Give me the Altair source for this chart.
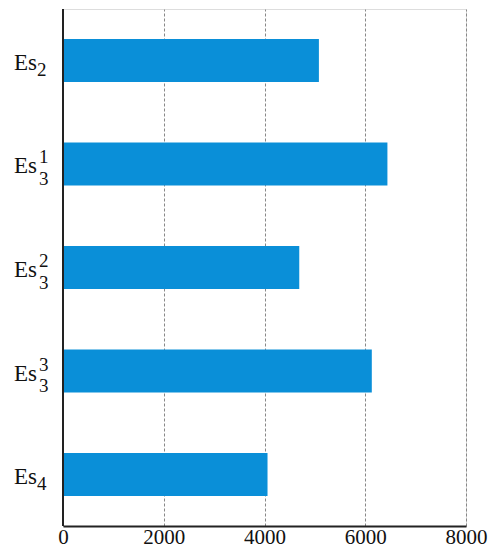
import altair as alt
import pandas as pd

names = ["Es2", "Es3-1", "Es3-2", "Es3-3", "Es4"]
base = ["Es", "Es", "Es", "Es", "Es"]
subs = ["2", "3", "3", "3", "4"]
sups = ["", "1", "2", "3", ""]
values = [5080, 6440, 4690, 6130, 4060]
x_ticks = [0, 2000, 4000, 6000, 8000]

df = pd.DataFrame({"name": names, "base": base, "sub": subs, "sup": sups, "value": values})
df["has_sup"] = df["sup"] != ""

SERIF = "Liberation Serif, Times New Roman, serif"
y_enc = alt.Y("name:N", sort=names,
              scale=alt.Scale(paddingInner=0.585, paddingOuter=0.29),
              axis=None)

bars = alt.Chart(df).mark_bar(color="#0A8FD8").encode(
    x=alt.X("value:Q",
            scale=alt.Scale(domain=[0, 8000], nice=False),
            axis=alt.Axis(values=x_ticks, title=None, ticks=False, labelPadding=0,
                          format="d",
                          labelFont=SERIF, labelFontSize=21, labelColor="#111",
                          labelFlush=False, labelOverlap=False,
                          grid=True, gridDash=[3, 2], gridColor="#888", gridWidth=1,
                          domainColor="#222", domainWidth=2)),
    y=y_enc,
)

base_txt = alt.Chart(df).mark_text(font=SERIF, fontSize=23, align="right",
                                   baseline="alphabetic", dy=9.5, color="#111").encode(
    x=alt.value(-26), y=alt.Y("name:N", sort=names), text="base:N")

sub_plain = alt.Chart(df).transform_filter("!datum.has_sup").mark_text(
    font=SERIF, fontSize=19, align="left", baseline="alphabetic", dy=15.5, color="#111").encode(
    x=alt.value(-26), y=alt.Y("name:N", sort=names), text="sub:N")

sub_stacked = alt.Chart(df).transform_filter("datum.has_sup").mark_text(
    font=SERIF, fontSize=19, align="left", baseline="alphabetic", dy=21, color="#111").encode(
    x=alt.value(-24), y=alt.Y("name:N", sort=names), text="sub:N")

sup_txt = alt.Chart(df).transform_filter("datum.has_sup").mark_text(
    font=SERIF, fontSize=19, align="left", baseline="alphabetic", dy=-0.5, color="#111").encode(
    x=alt.value(-24), y=alt.Y("name:N", sort=names), text="sup:N")

left_axis = alt.Chart(df).mark_rule(color="#222", strokeWidth=2).encode(
    x=alt.value(0), y=alt.value(0), y2=alt.value(517))

chart = alt.layer(bars, left_axis, base_txt, sub_plain, sub_stacked, sup_txt).properties(
    width=403, height=517,
    autosize=alt.AutoSizeParams(type="none"),
    padding={"left": 63, "top": 9, "right": 25, "bottom": 23},
).configure_view(stroke="#222", strokeWidth=2).configure(background="white")

chart.save("out.html", embed_options={"renderer": "svg", "actions": False})
